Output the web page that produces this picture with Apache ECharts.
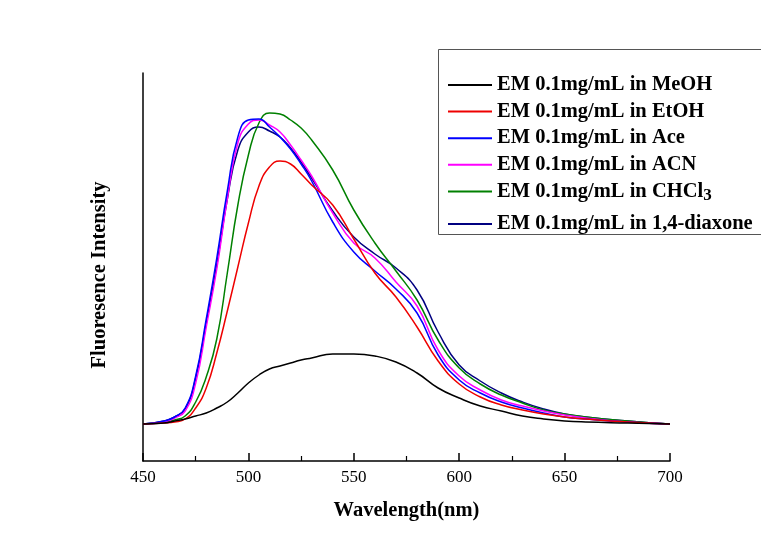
<!DOCTYPE html>
<html>
<head>
<meta charset="utf-8">
<script src="https://cdn.jsdelivr.net/npm/echarts@6/dist/echarts.min.js"></script>
<style>html,body{margin:0;padding:0;background:#fff}#c{width:761px;height:543px}</style>
</head>
<body>
<div id="c"></div>
<script>
var seriesNames = ['EM 0.1mg/mL in MeOH','EM 0.1mg/mL in EtOH','EM 0.1mg/mL in Ace','EM 0.1mg/mL in ACN','EM 0.1mg/mL in CHCl3','EM 0.1mg/mL in 1,4-diaxone'];
var seriesColors = ['#000000','#ee0000','#0000ff','#ff00ff','#008000','#000080'];
var xTicks = [450, 500, 550, 600, 650, 700];

var wavelengths = [450,460,465,470,475,480,485,490,495,500,505,510,515,520,525,530,540,550,560,570,580,590,600,610,620,630,640,650,660,680,700];
var valMeOH  = [37,38,40,42,45,48,53,59,68,78,86,92,95,98,101,103,107,107,105,99,88,73,63,55,50,45,42,40,39,38,37];
var valEtOH  = [37,38,39,42,53,73,108,150,194,238,275,294,300,297,287,276,256,222,188,164,134,100,77,64,56,51,47,44,42,39,37];
var valAce   = [37,40,44,53,85,142,203,270,324,341,342,334,324,312,297,280,239,209,190,172,148,106,81,68,59,53,48,44,42,39,37];
var valACN   = [37,39,43,50,78,134,192,262,318,337,341,336,329,316,301,285,248,218,203,179,155,111,85,71,61,55,50,46,43,39,37];
var valCHCl3 = [37,39,41,45,59,84,122,188,256,306,338,348,347,341,333,321,291,251,218,190,161,121,93,77,66,58,51,47,44,40,37];
var valDiax  = [37,40,44,52,83,138,196,262,311,329,334,330,324,313,299,283,250,224,207,193,171,129,96,80,68,59,52,47,44,40,37];

var valSets = [valMeOH, valEtOH, valAce, valACN, valCHCl3, valDiax];

var FONT = '"Liberation Serif", "Times New Roman", serif';

var series = seriesNames.map(function (n, i) {
  return {
    name: n,
    type: 'line',
    smooth: 0.5,
    showSymbol: false,
    symbol: 'none',
    color: seriesColors[i],
    lineStyle: { width: 1.5, color: seriesColors[i] },
    data: wavelengths.map(function (w, k) { return [w, valSets[i][k]]; }),
    z: 10 - i
  };
});

function legendFmt(name) {
  return name.replace('CHCl3', 'CHCl{s|3}');
}
var legendText = {
  fontFamily: FONT, fontWeight: 'bold', fontSize: 20.5, color: '#000', lineHeight: 26,
  rich: { s: { fontFamily: FONT, fontWeight: 'bold', fontSize: 17, verticalAlign: 'bottom', lineHeight: 14 } }
};

var chart = echarts.init(document.getElementById('c'), null, { renderer: 'canvas' });
chart.setOption({
  backgroundColor: '#ffffff',
  animation: false,
  grid: { left: 143, right: 91, top: 73, bottom: 82, containLabel: false },
  graphic: [{
    type: 'rect', shape: { x: 438.5, y: 49.5, width: 340, height: 185 },
    style: { fill: 'none', stroke: '#555', lineWidth: 1 }, z: 0
  }],
  legend: [{
    data: seriesNames.slice(0, 5),
    orient: 'vertical', left: 448, top: 72, padding: 0, itemGap: 0.6,
    itemWidth: 44, itemHeight: 2, icon: 'rect',
    formatter: legendFmt, textStyle: legendText, selectedMode: false
  }, {
    data: seriesNames.slice(5),
    orient: 'vertical', left: 448, top: 211, padding: 0, itemGap: 0,
    itemWidth: 44, itemHeight: 2, icon: 'rect',
    formatter: legendFmt, textStyle: legendText, selectedMode: false
  }],
  xAxis: {
    type: 'value', min: xTicks[0], max: xTicks[xTicks.length - 1], interval: 50,
    name: 'Wavelength(nm)', nameLocation: 'middle', nameGap: 39,
    nameTextStyle: { fontFamily: FONT, fontWeight: 'bold', fontSize: 20.5, color: '#000' },
    axisLine: { show: true, onZero: false, lineStyle: { color: '#000', width: 1.5 } },
    axisTick: { show: true, inside: true, length: 8, lineStyle: { color: '#000', width: 1.5 } },
    minorTick: { show: true, splitNumber: 2, length: 5, lineStyle: { color: '#000', width: 1.2 } },
    axisLabel: { fontFamily: FONT, fontSize: 17, color: '#000', margin: 8 },
    splitLine: { show: false }
  },
  yAxis: {
    type: 'value', min: 0, max: 388,
    name: 'Fluoresence Intensity', nameLocation: 'middle', nameGap: 33,
    nameTextStyle: { fontFamily: FONT, fontWeight: 'bold', fontSize: 20.5, color: '#000', padding: [0, 16, 0, 0] },
    axisLine: { show: true, onZero: false, lineStyle: { color: '#000', width: 1.5 } },
    axisTick: { show: false }, axisLabel: { show: false }, splitLine: { show: false }
  },
  series: series
});
</script>
</body>
</html>
